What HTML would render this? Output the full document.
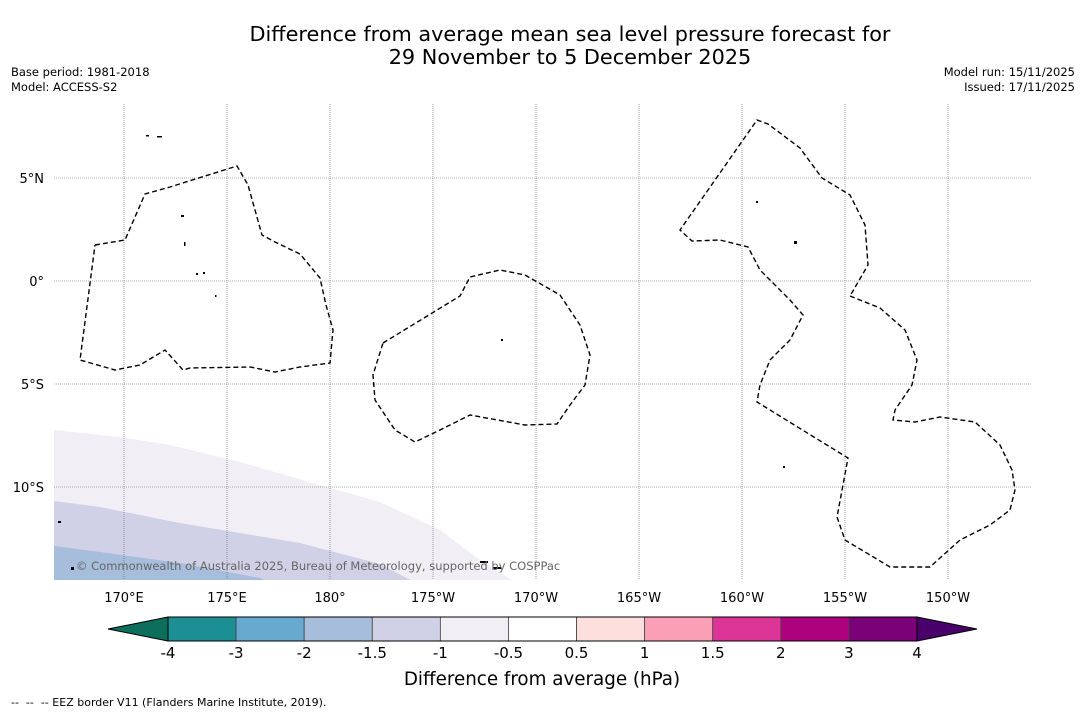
<!DOCTYPE html>
<html><head><meta charset="utf-8"><style>
body{margin:0;background:#fff;width:1085px;height:713px;overflow:hidden;font-family:"DejaVu Sans","Liberation Sans",sans-serif;}
svg text{font-family:"DejaVu Sans","Liberation Sans",sans-serif;}
</style></head><body>
<svg id="chart" width="1085" height="713" viewBox="0 0 1085 713" xmlns="http://www.w3.org/2000/svg">
<rect width="1085" height="713" fill="#fff"/>
<text x="570" y="41" font-size="20.8" text-anchor="middle">Difference from average mean sea level pressure forecast for</text>
<text x="570" y="64" font-size="20.8" text-anchor="middle">29 November to 5 December 2025</text>
<text x="11" y="76" font-size="11.5">Base period: 1981-2018</text>
<text x="11" y="91" font-size="11.5">Model: ACCESS-S2</text>
<text x="1075" y="76" font-size="11.5" text-anchor="end">Model run: 15/11/2025</text>
<text x="1075" y="91" font-size="11.5" text-anchor="end">Issued: 17/11/2025</text>
<g id="map">
<clipPath id="mc"><rect x="54" y="104" width="977" height="476"/></clipPath>
<g clip-path="url(#mc)">
<polygon fill="#f1eef6" points="54,430 120,437 170,445 240,462 330,488 380,502 440,530 480,560 520,585 54,585"/>
<polygon fill="#d0d1e6" points="54,501 100,507 180,523 300,543 380,564 420,585 54,585"/>
<polygon fill="#a6bddb" points="54,546 100,552 180,563 260,578 275,585 54,585"/>
<g id="grid" stroke="#666" stroke-width="0.6" stroke-dasharray="1,1"></g>
<g fill="none" stroke="#000" stroke-width="1.4" stroke-dasharray="5,3">
<polyline points="95,245 125,240 145,194 170,187 237,166 248,185 262,235 275,242 300,254 320,278 326,305 333,330 330,363 300,367 275,372 250,367 190,368 183,370 165,350 140,365 115,370 80,360 95,245"/>
<polyline points="383,343 460,296 470,277 500,270 525,275 560,295 580,325 590,355 585,385 570,405 557,424 525,425 470,415 440,430 415,442 395,430 375,400 373,375 383,343"/>
<polyline points="850,296 880,308 905,330 917,360 912,385 895,410 893,420 915,422 940,417 975,422 1000,445 1012,470 1015,490 1010,510 990,525 960,540 930,567 890,567 870,555 845,540 837,517 848,458 757,402 760,385 770,360 790,340 803,315 790,300 760,270 748,247 720,240 692,241 680,230 757,120 768,124 800,148 822,178 850,195 865,225 868,265 850,296"/>
</g>
<g fill="#000">
<rect x="146" y="135" width="3" height="1.5"/><rect x="157" y="136" width="5" height="1.5"/><rect x="184" y="242" width="1.5" height="4"/><rect x="196" y="273" width="2" height="2"/><rect x="203" y="272" width="2" height="2"/><rect x="215" y="295" width="1.5" height="2"/><rect x="501" y="339" width="2" height="2"/><rect x="756" y="201" width="2" height="2"/><rect x="794" y="241" width="3" height="3"/><rect x="783" y="466" width="2" height="2"/><rect x="480" y="561" width="8" height="2"/><rect x="493" y="567" width="8" height="2"/><rect x="58" y="521" width="3" height="2"/><rect x="71" y="567" width="3" height="3"/><rect x="181" y="215" width="3" height="2"/>
</g>
<text x="76" y="570" font-size="11.5" fill="#666">© Commonwealth of Australia 2025, Bureau of Meteorology, supported by COSPPac</text>
</g>
<g id="axlabels"></g>
</g>
<g id="cbar"></g>
<text x="542" y="685" font-size="18.3" text-anchor="middle">Difference from average (hPa)</text>
<text x="11" y="706" font-size="11" xml:space="preserve">--  --  -- EEZ border V11 (Flanders Marine Institute, 2019).</text>
</svg>
<script>
const lonTicks=[170,175,180,-175,-170,-165,-160,-155,-150];
const lonLabels=["170°E","175°E","180°","175°W","170°W","165°W","160°W","155°W","150°W"];
const latTicks=[5,0,-5,-10];
const latLabels=["5°N","0°","5°S","10°S"];
const cbLevels=["-4","-3","-2","-1.5","-1","-0.5","0.5","1","1.5","2","3","4"];
const cbColors=["#1b8f94","#67a9cf","#a6bddb","#d0d1e6","#f1eef6","#ffffff","#fde0dd","#fa9fb5","#dd3497","#ae017e","#7a0177"];
const cbLow="#0d6e5c", cbHigh="#49006a";
const NS="http://www.w3.org/2000/svg";
function xLon(l){let e=l<0?l+360:l;return 124+(e-170)*20.6;}
function yLat(l){return 281-l*20.6;}
function mk(t,a,p){const e=document.createElementNS(NS,t);for(const k in a)e.setAttribute(k,a[k]);p.appendChild(e);return e;}
const grid=document.getElementById('grid'),ax=document.getElementById('axlabels');
lonTicks.forEach((l,i)=>{const x=xLon(l);
 const g=mk('line',{x1:x,x2:x,y1:104,y2:580},grid);
 
 
 const t=mk('text',{x:x,y:602,'font-size':13,'text-anchor':'middle'},ax);t.textContent=lonLabels[i];
 
 });
latTicks.forEach((l,i)=>{const y=yLat(l);
 const g=mk('line',{x1:54,x2:1031,y1:y,y2:y},grid);
 
 
 const t=mk('text',{x:44,y:y+5,'font-size':13,'text-anchor':'end'},ax);t.textContent=latLabels[i];
 
 });
const cb=document.getElementById('cbar');
const x0=168,x1=917,y0=617,y1=641,n=cbColors.length,w=(x1-x0)/n;
const lo=mk('polygon',{points:`108,${(y0+y1)/2} ${x0},${y0} ${x0},${y1}`,fill:cbLow,stroke:'#000','stroke-width':1},cb);


const hi=mk('polygon',{points:`977,${(y0+y1)/2} ${x1},${y0} ${x1},${y1}`,fill:cbHigh,stroke:'#000','stroke-width':1},cb);


cbColors.forEach((c,i)=>{const r=mk('rect',{x:x0+i*w,y:y0,width:w,height:y1-y0,fill:c,stroke:'#444','stroke-width':0.8},cb);
 
 });
cbLevels.forEach((v,i)=>{const t=mk('text',{x:x0+i*w,y:658,'font-size':15,'text-anchor':'middle'},cb);t.textContent=v;
 
 });
mk('rect',{x:x0,y:y0,width:x1-x0,height:y1-y0,fill:'none',stroke:'#000','stroke-width':1},cb);
</script>
</body></html>
